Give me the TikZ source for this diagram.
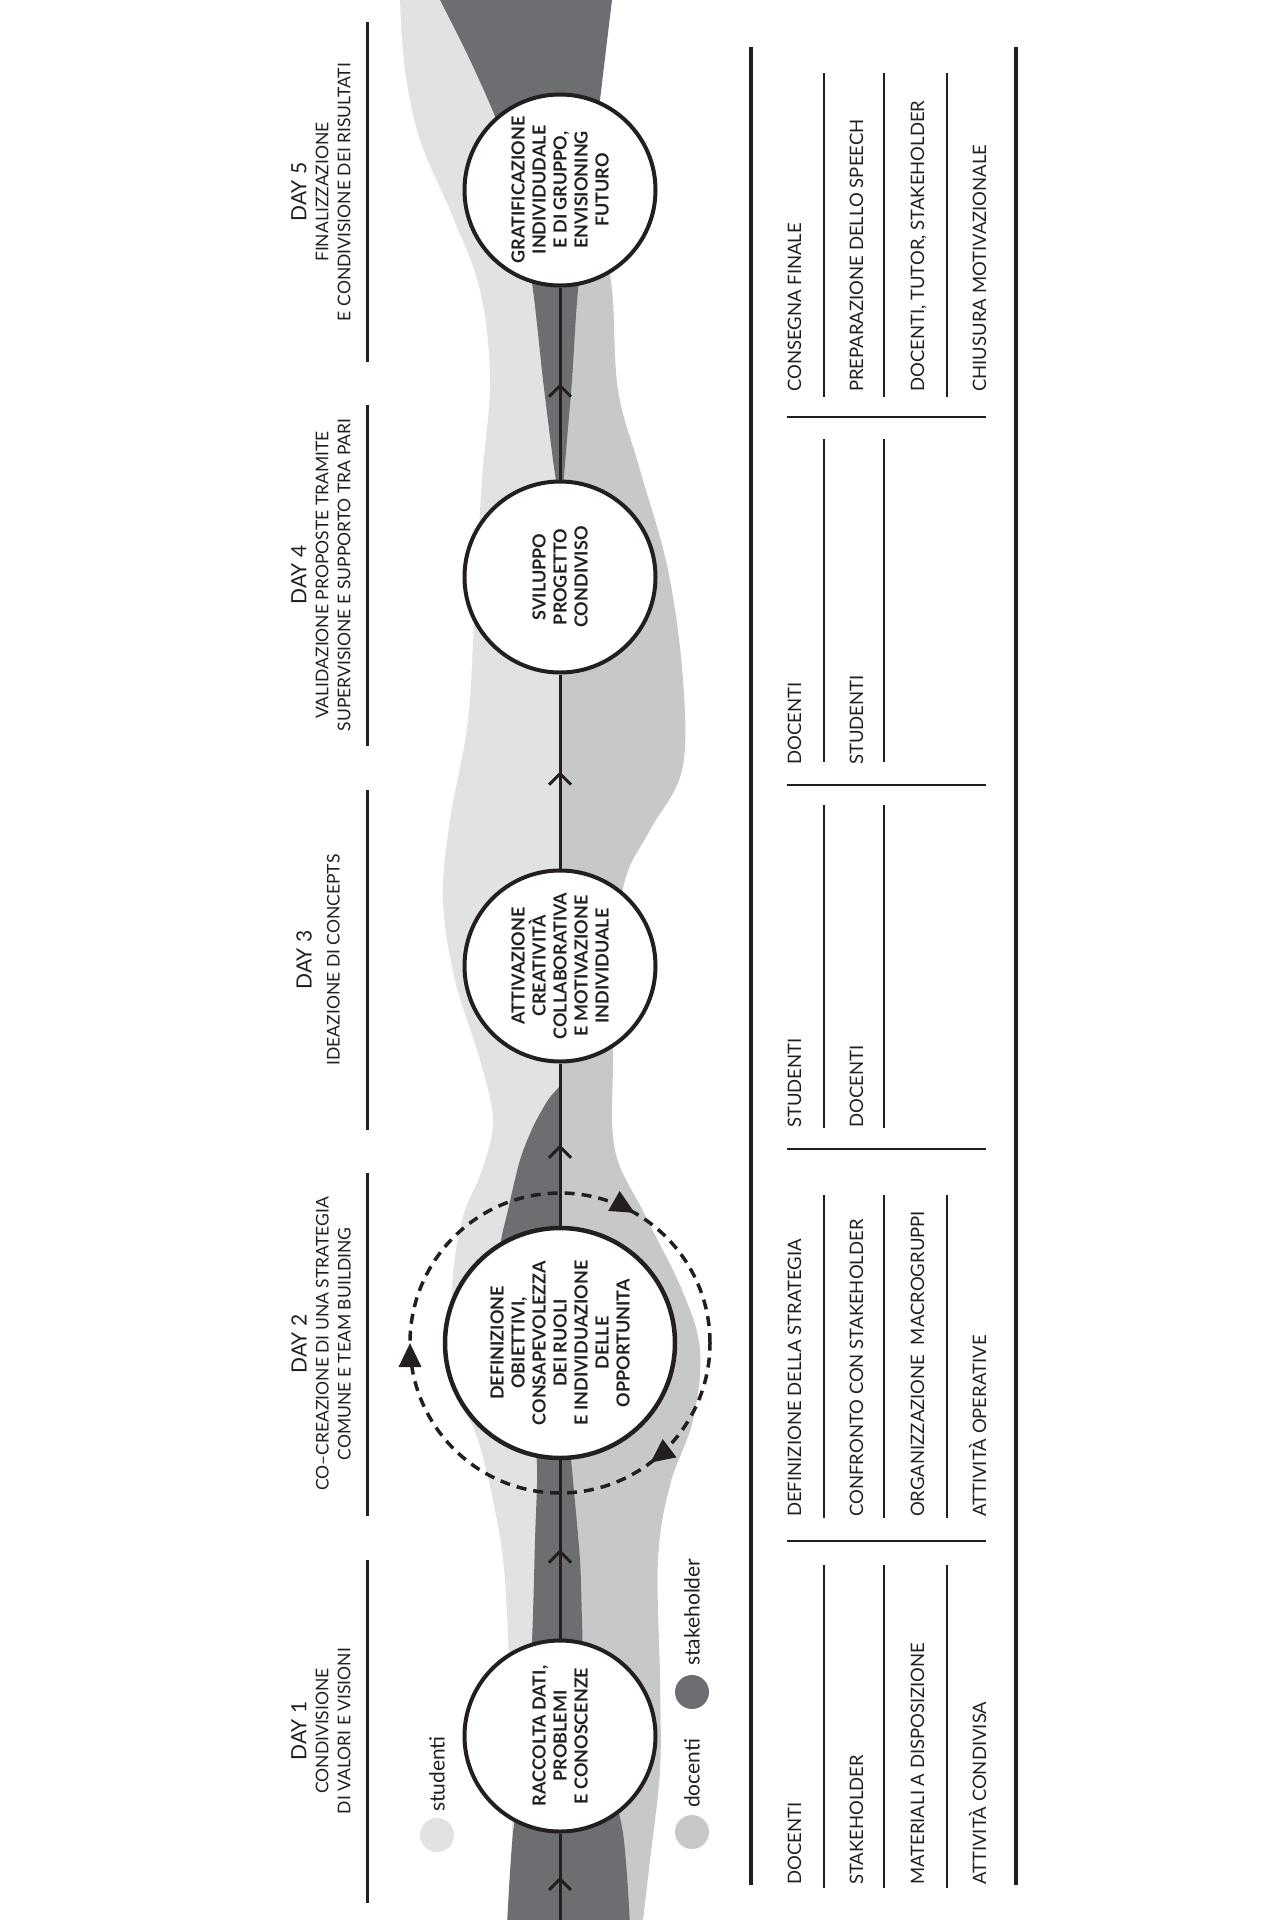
\documentclass[tikz,border=0pt]{standalone}
\usepackage{fontspec}
\setmainfont{Lato}
\usetikzlibrary{arrows.meta, decorations.markings}
\definecolor{studcolor}{RGB}{225,226,227}
\definecolor{doccolor}{RGB}{199,200,202}
\definecolor{stakecolor}{RGB}{109,110,113}
\definecolor{inkcolor}{RGB}{35,31,32}
\newcommand{\dayhead}[1]{{\fontsize{21}{23}\selectfont #1}}

\begin{document}
\begin{tikzpicture}[
    x=1pt, y=-1pt,
    bubble/.style={circle, draw=inkcolor, line width=4pt, fill=white, minimum size=191pt, inner sep=0pt, rotate=90, align=center, text=inkcolor, font={\fontsize{18}{21}\selectfont\bfseries}},
    bigbubble/.style={bubble, minimum size=230pt, line width=4.5pt},
    axisflow/.style={draw=inkcolor, line width=3pt, postaction={decorate}, decoration={markings, mark=at position 0.5 with {\arrow{Straight Barb[length=11pt,width=22pt]}}}},
    cycleloop/.style={draw=inkcolor, line width=3.5pt, dash pattern=on 10pt off 7pt, postaction={decorate},
        decoration={markings,
            mark=at position 0.167 with {\arrowreversed{Triangle[length=24pt,width=22pt]}},
            mark=at position 0.5 with {\arrowreversed{Triangle[length=24pt,width=22pt]}},
            mark=at position 0.853 with {\arrowreversed{Triangle[length=24pt,width=22pt]}}}},
    daytitle/.style={rotate=90, align=center, inner sep=0pt, text=inkcolor, font={\fontsize{17.5}{22}\selectfont}},
    dayrule/.style={draw=inkcolor, line width=3pt},
    cell/.style={rotate=90, anchor=base west, inner sep=0pt, text=inkcolor, font={\fontsize{18.5}{24}\selectfont}},
    tablerule/.style={draw=inkcolor, line width=4pt},
    cellrule/.style={draw=inkcolor, line width=2pt},
    legenddot/.style={circle, minimum size=34pt, inner sep=0pt},
    legendtext/.style={rotate=90, anchor=west, inner sep=0pt, text=inkcolor, font={\fontsize{21}{24}\selectfont}}
]
\fill[white] (0,0) rectangle (1280,1920);
\useasboundingbox (0,0) rectangle (1280,1920);

\fill[studcolor] plot[smooth, tension=0.6] coordinates {(400,0) (405,70) (420,140) (452,215) (480,290) (490,380) (482,480) (475,600) (468,720) (450,820) (443,900) (455,980) (480,1060) (493,1120) (482,1170) (462,1220) (452,1290) (455,1380) (478,1440) (495,1510) (505,1580) (510,1700) (512,1840) (508,1920)} -- (560,1920) -- (560,0) -- cycle;
\fill[doccolor] (560,0) -- (560,1920) -- plot[smooth, tension=0.6] coordinates {(643,1920) (650,1860) (660,1770) (660,1680) (658,1560) (670,1485) (693,1420) (700,1350) (682,1290) (645,1215) (615,1150) (613,1060) (615,960) (625,880) (650,830) (682,770) (683,680) (668,570) (640,470) (618,390) (612,290) (598,200) (594,110) (606,0)} -- cycle;
\fill[stakecolor] plot[smooth, tension=0.5] coordinates {(440,0) (470,60) (500,130) (520,210) (533,290) (543,380) (553,460) (559,500)} -- plot[smooth, tension=0.5] coordinates {(562,500) (567,440) (572,380) (578,290) (590,190) (600,100) (612,0)} -- cycle;
\fill[stakecolor] plot[smooth, tension=0.5] coordinates {(561,1085) (548,1100) (533,1127) (520,1160) (508,1210) (500,1250) (505,1300) (530,1420) (537,1465) (535,1540) (532,1640) (525,1760) (513,1833) (507,1925)} -- plot[smooth, tension=0.5] coordinates {(630,1925) (623,1833) (605,1760) (585,1680) (582,1620) (580,1560) (573,1480) (566,1400) (562,1300) (562,1085)} -- cycle;

\node[bubble] (raccolta) at (560,1736) {RACCOLTA DATI,\\PROBLEMI\\E CONOSCENZE};
\node[bigbubble] (definizione) at (560,1343) {DEFINIZIONE\\OBIETTIVI,\\CONSAPEVOLEZZA\\DEI RUOLI\\E INDIVIDUAZIONE\\DELLE\\OPPORTUNITA};
\node[bubble] (attivazione) at (560,966) {ATTIVAZIONE\\CREATIVITÀ\\COLLABORATIVA\\E MOTIVAZIONE\\INDIVIDUALE};
\node[bubble] (sviluppo) at (560,577) {SVILUPPO\\PROGETTO\\CONDIVISO};
\node[bubble] (gratificazione) at (560,190) {GRATIFICAZIONE\\INDIVIDUDALE\\E DI GRUPPO,\\ENVISIONING\\FUTURO};

\coordinate (axisfoot) at (560,1920);
\draw[axisflow] (axisfoot) -- (raccolta);
\draw[axisflow] (raccolta) -- (definizione);
\draw[axisflow] (definizione) -- (attivazione);
\draw[axisflow] (attivazione) -- (sviluppo);
\draw[axisflow] (sviluppo) -- (gratificazione);
\draw[cycleloop] (definizione.center) circle[radius=150pt];

\node[daytitle] (head1) at (321,1731) {\dayhead{DAY 1}\\CONDIVISIONE\\DI VALORI E VISIONI};
\node[daytitle] (head2) at (321,1344) {\dayhead{DAY 2}\\CO–CREAZIONE DI UNA STRATEGIA\\COMUNE E TEAM BUILDING};
\node[daytitle] (head3) at (318,960) {\dayhead{DAY 3}\\[6pt]IDEAZIONE DI CONCEPTS};
\node[daytitle] (head4) at (321,575) {\dayhead{DAY 4}\\VALIDAZIONE PROPOSTE TRAMITE\\SUPERVISIONE E SUPPORTO TRA PARI};
\node[daytitle] (head5) at (321,192) {\dayhead{DAY 5}\\FINALIZZAZIONE\\E CONDIVISIONE DEI RISULTATI};
\foreach \a/\b in {22/362, 405/746, 790/1130, 1173/1516, 1560/1903}
    \draw[dayrule] (367,\a) -- (367,\b);

\node[legenddot, fill=studcolor] (dotstud) at (437,1835) {};
\node[legendtext] (labstud) at (437,1812) {studenti};
\node[legenddot, fill=doccolor] (dotdoc) at (692,1832) {};
\node[legendtext] (labdoc) at (692,1808) {docenti};
\node[legenddot, fill=stakecolor] (dotstake) at (692,1692) {};
\node[legendtext] (labstake) at (692,1666) {stakeholder};

\draw[tablerule] (751,47) -- (751,1885);
\draw[tablerule] (1016,47) -- (1016,1885);
\foreach \y in {417, 785, 1149, 1541}
    \draw[cellrule] (787,\y) -- (986,\y);
\foreach \a/\b in {73/397, 1195/1518, 1565/1888}
    \foreach \x in {824, 884, 947}
        \draw[cellrule] (\x,\a) -- (\x,\b);
\foreach \a/\b in {439/762, 805/1128}
    \foreach \x in {824, 884}
        \draw[cellrule] (\x,\a) -- (\x,\b);

\node[cell] (finaleA) at (801,392) {CONSEGNA FINALE};
\node[cell] (finaleB) at (863,392) {PREPARAZIONE DELLO SPEECH};
\node[cell] (finaleC) at (924,392) {DOCENTI, TUTOR, STAKEHOLDER};
\node[cell] (finaleD) at (986,392) {CHIUSURA MOTIVAZIONALE};
\node[cell] (svilA) at (801,765) {DOCENTI};
\node[cell] (svilB) at (863,765) {STUDENTI};
\node[cell] (ideaA) at (801,1128) {STUDENTI};
\node[cell] (ideaB) at (863,1128) {DOCENTI};
\node[cell] (stratA) at (801,1517) {DEFINIZIONE DELLA STRATEGIA};
\node[cell] (stratB) at (863,1517) {CONFRONTO CON STAKEHOLDER};
\node[cell] (stratC) at (924,1517) {ORGANIZZAZIONE\ \ MACROGRUPPI};
\node[cell] (stratD) at (986,1517) {ATTIVITÀ OPERATIVE};
\node[cell] (valA) at (801,1885) {DOCENTI};
\node[cell] (valB) at (863,1885) {STAKEHOLDER};
\node[cell] (valC) at (924,1885) {MATERIALI A DISPOSIZIONE};
\node[cell] (valD) at (986,1885) {ATTIVITÀ CONDIVISA};
\end{tikzpicture}
\end{document}
